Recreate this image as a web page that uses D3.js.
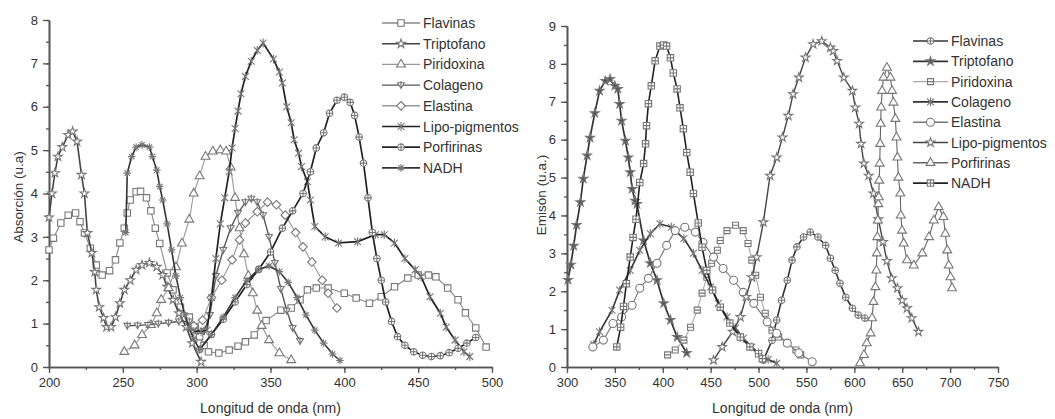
<!DOCTYPE html>
<html>
<head>
<meta charset="utf-8">
<script src="https://cdn.jsdelivr.net/npm/d3@7"></script>
<style>
  body { margin: 0; background: #fff; }
  text { font-family: "Liberation Sans", Arial, sans-serif; }
</style>
</head>
<body>
<svg id="chart" width="1055" height="419"></svg>
<script>
// series names (same order in both panels)
const seriesNames = ['Flavinas', 'Triptofano', 'Piridoxina', 'Colageno', 'Elastina', 'Lipo-pigmentos', 'Porfirinas', 'NADH'];

// ---- absorption panel (left) ----
const absFlavinasX = [200,203,208,213,218,221,224,228,232,236,241,245,248,251,253,255,259,262,266,269,272,275,280,284,289,295,299,302,305,308,315,322,328,333,339,347,357,364,370,375,381,389,400,408,417,425,434,443,450,457,462,470,477,482,489,496];
const absFlavinasY = [2.7,2.97,3.32,3.5,3.55,3.35,3.09,2.74,2.35,2.12,2.22,2.47,2.86,3.2,3.55,3.85,4.04,4.05,3.9,3.6,3.2,2.85,2.17,1.78,1.38,1.15,0.92,0.7,0.5,0.35,0.32,0.39,0.48,0.58,0.74,1.07,1.31,1.36,1.55,1.78,1.82,1.82,1.7,1.59,1.47,1.62,1.85,2.05,2.12,2.12,2.08,1.82,1.55,1.25,0.9,0.46];

const absTriptofanoX = [200,202,204,206,209,213,216,219,222,224,226,229,231,232,234,237,239,242,245,248,251,255,259,263,268,273,277,280,284,288,293,297,303];
const absTriptofanoY = [3.45,4.0,4.47,4.85,5.07,5.35,5.43,5.2,4.43,4.0,3.09,2.63,2.19,1.78,1.38,1.13,0.92,0.92,1.15,1.47,1.78,2.0,2.24,2.35,2.4,2.31,2.12,1.85,1.55,1.24,0.92,0.55,0.12];

const absPiridoxinaX = [251,258,263,269,273,276,281,286,290,295,298,302,306,311,316,320,323,326,329,332,335,338,341,344,349,356,364];
const absPiridoxinaY = [0.35,0.5,0.74,0.97,1.24,1.55,1.82,2.3,2.85,3.4,4.0,4.4,4.85,4.97,5.0,4.97,4.6,3.9,3.2,2.6,2.1,1.7,1.3,0.95,0.62,0.32,0.16];

const absColagenoX = [253,260,267,274,281,288,295,299,305,309,313,318,323,328,333,337,341,345,349,353,357,361,365,370];
const absColagenoY = [0.95,0.96,0.97,1.0,1.02,1.05,1.05,0.85,0.83,1.2,2.1,2.7,3.2,3.55,3.8,3.88,3.8,3.5,3.0,2.4,1.8,1.3,0.9,0.6];

const absElastinaX = [298,304,310,317,324,329,333,341,348,354,360,367,372,378,385,389,395];
const absElastinaY = [0.95,1.08,1.6,2.0,2.47,2.93,3.32,3.58,3.8,3.74,3.5,3.1,2.77,2.42,2.0,1.7,1.36];

const absLipoX = [298,303,307,310,313,316,319,322,324,326,328,330,333,337,341,345,352,356,358,361,364,366,369,371,375,377,380,387,396,409,421,427,434,441,448,452,458,465,469,475,481,485];
const absLipoY = [0.82,0.82,0.85,1.6,2.5,3.3,3.9,4.5,5.05,5.5,5.9,6.3,6.7,7.05,7.3,7.47,7.1,6.8,6.55,6.0,5.63,5.24,4.93,4.62,4.27,3.85,3.24,3.0,2.86,2.89,3.05,3.05,2.86,2.5,2.24,2.08,1.62,1.24,0.92,0.62,0.35,0.24];

const absPorfirinasX = [302,310,318,326,334,342,350,358,365,372,377,381,386,390,395,400,404,407,410,413,416,419,422,425,428,432,436,441,447,453,459,465,471,477,483,489];
const absPorfirinasY = [0.4,0.75,1.1,1.5,1.9,2.25,2.65,3.2,3.6,4.0,4.5,5.05,5.4,5.85,6.15,6.22,6.1,5.8,5.3,4.7,3.9,3.1,2.5,2.0,1.5,1.05,0.7,0.5,0.35,0.27,0.24,0.26,0.33,0.43,0.55,0.68];

const absNADHX = [252,253,256,259,263,268,270,273,275,277,280,283,286,289,292,295,298,302,310,318,326,334,342,349,356,362,368,374,380,386,392,397];
const absNADHY = [3.1,4.47,4.85,5.07,5.12,5.07,4.85,4.54,4.16,3.85,3.3,2.7,2.1,1.6,1.2,0.9,0.65,0.4,0.75,1.15,1.6,2.0,2.25,2.33,2.2,1.95,1.6,1.2,0.85,0.55,0.3,0.15];

// ---- emission panel (right) ----
const emFlavinasX = [505,514,519,524,530,535,540,547,554,562,570,575,580,585,591,598,604,611];
const emFlavinasY = [0.18,0.7,1.24,1.76,2.29,2.82,3.17,3.43,3.56,3.43,3.21,2.87,2.55,2.21,1.84,1.55,1.37,1.29];

const emTriptofanoX = [301,304,307,310,314,317,321,324,329,334,340,345,350,353,355,357,361,364,366,368,371,373,380,387,394,401,408,415,425];
const emTriptofanoY = [2.3,2.7,3.2,3.75,4.35,4.97,5.58,6.05,6.7,7.29,7.55,7.6,7.42,7.34,6.94,6.5,5.97,5.53,5.14,4.7,4.39,4.3,3.34,2.74,2.29,1.68,1.24,0.79,0.37];

const emPiridoxinaX = [405,413,422,429,436,441,446,451,457,460,467,476,484,489,493,497,502,507,514,521,530,539,544];
const emPiridoxinaY = [0.32,0.45,0.71,1.05,1.5,1.95,2.37,2.74,3.08,3.34,3.6,3.74,3.6,3.26,2.82,2.42,1.84,1.42,0.97,0.79,0.63,0.45,0.32];

const emColagenoX = [328,334,347,355,366,376,387,397,409,422,432,441,450,458,467,476,484,493,500,510,519];
const emColagenoY = [0.6,0.93,1.5,2.03,2.55,3.08,3.52,3.78,3.69,3.39,3.0,2.55,2.11,1.68,1.32,1.03,0.76,0.53,0.37,0.2,0.1];

const emElastinaX = [327,338,348,357,368,376,385,394,404,413,423,434,442,453,463,474,484,495,509,519,530,542,556];
const emElastinaY = [0.53,0.71,1.15,1.32,1.63,2.08,2.34,2.74,3.21,3.6,3.69,3.56,3.29,2.9,2.6,2.29,1.97,1.68,1.19,0.89,0.63,0.37,0.14];

const emLipoX = [453,462,473,481,487,493,498,505,512,519,525,531,536,542,549,557,566,575,578,582,589,598,601,605,607,610,615,620,625,630,634,639,645,650,655,660,667];
const emLipoY = [0.18,0.53,0.93,1.32,1.85,2.37,2.9,3.82,5.05,5.53,6.06,6.63,7.2,7.64,8.17,8.52,8.6,8.43,8.34,8.08,7.64,7.29,6.85,6.42,5.89,5.37,5.05,4.58,3.9,3.3,2.8,2.34,2.08,1.76,1.55,1.29,0.93];

const emPorfirinasX = [606,610,613,617,618.5,620,622,623,623.5,624,624.5,625,625.5,626,626.5,627,627.5,628,629,630.5,634,637.7,639.4,640.8,642.8,644,645,646,648,648.5,649.8,651.5,655,662,671,678,683,688,693,695,697,698.6,700.3,702];
const emPorfirinasY = [0.1,0.32,0.63,0.89,1.29,1.72,2.11,2.55,3.0,3.43,3.87,4.3,4.48,4.92,5.37,5.89,6.42,6.85,7.29,7.64,7.9,7.64,7.29,6.98,6.55,6.06,5.53,5.0,4.58,4.0,3.6,3.26,2.82,2.68,3.0,3.43,3.87,4.22,3.96,3.52,3.08,2.68,2.37,2.08];

const emNADHX = [352,356,359,362,366,369,372,376,380,382,383,385,388,392,397,401,404,408,411,415,418,421.5,425,428.6,432,437,441,446,452,460,470,481,491,500,504];
const emNADHY = [0.53,1.05,1.6,2.2,2.9,3.42,3.9,4.87,5.37,5.89,6.37,6.95,7.42,8.08,8.47,8.5,8.47,8.16,7.76,7.34,6.84,6.29,5.66,5.14,4.58,3.8,3.16,2.55,2.03,1.58,1.16,0.79,0.53,0.35,0.22];

// tick values
const absXTicks = [200, 250, 300, 350, 400, 450, 500];
const absYTicks = [0, 1, 2, 3, 4, 5, 6, 7, 8];
const emXTicks = [300, 350, 400, 450, 500, 550, 600, 650, 700, 750];
const emYTicks = [0, 1, 2, 3, 4, 5, 6, 7, 8, 9];

const absX = [absFlavinasX, absTriptofanoX, absPiridoxinaX, absColagenoX, absElastinaX, absLipoX, absPorfirinasX, absNADHX];
const absY = [absFlavinasY, absTriptofanoY, absPiridoxinaY, absColagenoY, absElastinaY, absLipoY, absPorfirinasY, absNADHY];
const emX = [emFlavinasX, emTriptofanoX, emPiridoxinaX, emColagenoX, emElastinaX, emLipoX, emPorfirinasX, emNADHX];
const emY = [emFlavinasY, emTriptofanoY, emPiridoxinaY, emColagenoY, emElastinaY, emLipoY, emPorfirinasY, emNADHY];

// marker shapes
const circ = r => `M${-r},0a${r},${r} 0 1,0 ${2 * r},0a${r},${r} 0 1,0 ${-2 * r},0Z`;
function markerPath(type) {
  switch (type) {
    case 'square': return 'M-3.2,-3.2H3.2V3.2H-3.2Z';
    case 'star':
    case 'starFilled': return d3.symbol(d3.symbolStar, 24)();
    case 'triangle': return d3.symbol(d3.symbolTriangle, 34)();
    case 'triDown': return 'M-3.4,-2.4L3.4,-2.4L0,3.4Z M0,-4.2V4.2';
    case 'diamond': return 'M0,-4.3L4.3,0L0,4.3L-4.3,0Z';
    case 'xstar': return 'M-3.4,-3.4L3.4,3.4M-3.4,3.4L3.4,-3.4M0,-4.4V4.4';
    case 'circPlus': return circ(3.3) + 'M-3.3,0H3.3M0,-3.3V3.3';
    case 'asterisk': return 'M0,-3.8V3.8M-3.8,0H3.8M-2.7,-2.7L2.7,2.7M-2.7,2.7L2.7,-2.7';
    case 'circle': return circ(4);
    case 'squarePlus': return 'M-3.2,-3.2H3.2V3.2H-3.2Z M-3.2,0H3.2M0,-3.2V3.2';
    case 'squareLine': return 'M-3,-3H3V3H-3Z M-3,0H3';
  }
}

const absStyle = [
  { m: 'square', line: '#888', w: 1.1 },
  { m: 'star', line: '#444', w: 1.6 },
  { m: 'triangle', line: '#999', w: 1.1 },
  { m: 'triDown', line: '#555', w: 1.4 },
  { m: 'diamond', line: '#999', w: 1.1 },
  { m: 'xstar', line: '#222', w: 1.7 },
  { m: 'circPlus', line: '#222', w: 1.7 },
  { m: 'asterisk', line: '#333', w: 1.6 }
];
const emStyle = [
  { m: 'circPlus', line: '#333', w: 1.6 },
  { m: 'starFilled', line: '#333', w: 1.7 },
  { m: 'squareLine', line: '#aaa', w: 1.1 },
  { m: 'xstar', line: '#333', w: 1.6 },
  { m: 'circle', line: '#777', w: 1.1 },
  { m: 'star', line: '#444', w: 1.4 },
  { m: 'triangle', line: '#666', w: 1.1 },
  { m: 'squarePlus', line: '#222', w: 1.6 }
];

const svg = d3.select('#chart');

function drawMarker(g, type, x, y) {
  g.append('path')
    .attr('d', markerPath(type))
    .attr('transform', `translate(${x},${y})`)
    .attr('fill', type === 'starFilled' ? '#555' : (type === 'xstar' || type === 'asterisk') ? 'none' : '#fff')
    .attr('stroke', '#777')
    .attr('stroke-width', 1.1);
}

function drawPanel(cfg) {
  const x = d3.scaleLinear().domain(cfg.xDomain).range(cfg.xRange);
  const y = d3.scaleLinear().domain(cfg.yDomain).range(cfg.yRange);
  const g = svg.append('g');

  // axes: minor ticks first, then major
  const minorX = d3.range(cfg.xDomain[0], cfg.xDomain[1] + 1, cfg.xMinor);
  const minorY = d3.range(cfg.yDomain[0], cfg.yDomain[1] + 0.01, 0.5);
  g.append('g').attr('transform', `translate(0,${cfg.yRange[0]})`)
    .call(d3.axisBottom(x).tickValues(minorX).tickSize(3).tickSizeOuter(0).tickFormat(''));
  g.append('g').attr('transform', `translate(${cfg.xRange[0]},0)`)
    .call(d3.axisLeft(y).tickValues(minorY).tickSize(3).tickSizeOuter(0).tickFormat(''));
  g.append('g').attr('transform', `translate(0,${cfg.yRange[0]})`)
    .call(d3.axisBottom(x).tickValues(cfg.xTicks).tickSize(6).tickSizeOuter(0).tickPadding(5));
  g.append('g').attr('transform', `translate(${cfg.xRange[0]},0)`)
    .call(d3.axisLeft(y).tickValues(cfg.yTicks).tickSize(6).tickSizeOuter(0).tickPadding(5));
  g.selectAll('.domain').attr('stroke', '#555').attr('stroke-width', 1.6);
  g.selectAll('.tick line').attr('stroke', '#555').attr('stroke-width', 1.3);
  g.selectAll('.tick text').attr('fill', '#333').style('font-size', '13px')
    .style('font-family', '"Liberation Sans", Arial, sans-serif');

  g.append('text')
    .attr('transform', `translate(${cfg.yTitlePos[0]},${cfg.yTitlePos[1]}) rotate(-90)`)
    .attr('text-anchor', 'middle').attr('dominant-baseline', 'central')
    .attr('fill', '#333').style('font-size', '13.5px').text(cfg.yTitle);
  g.append('text')
    .attr('x', (cfg.xRange[0] + cfg.xRange[1]) / 2 + cfg.xTitleShift).attr('y', 408)
    .attr('text-anchor', 'middle').attr('dominant-baseline', 'central')
    .attr('fill', '#333').style('font-size', '14px').text('Longitud de onda (nm)');

  const line = d3.line().x(d => x(d[0])).y(d => y(d[1]));

  seriesNames.forEach((name, i) => {
    const pts = cfg.xs[i].map((v, j) => [v, cfg.ys[i][j]]);
    const st = cfg.style[i];
    g.append('path').datum(pts).attr('d', line)
      .attr('fill', 'none').attr('stroke', st.line).attr('stroke-width', st.w);
    const mg = g.append('g');
    pts.forEach(p => drawMarker(mg, st.m, x(p[0]), y(p[1])));

    // legend row
    const ly = cfg.legY + i * cfg.legStep;
    g.append('line').attr('x1', cfg.legX[0]).attr('x2', cfg.legX[1])
      .attr('y1', ly).attr('y2', ly).attr('stroke', st.line).attr('stroke-width', Math.max(st.w, 1.4));
    drawMarker(g, st.m, (cfg.legX[0] + cfg.legX[1]) / 2, ly);
    g.append('text').attr('x', cfg.legX[1] + 3).attr('y', ly)
      .attr('dominant-baseline', 'central').attr('fill', '#333')
      .style('font-size', '14px').text(name);
  });
}

drawPanel({
  xDomain: [200, 500], xRange: [49, 492], xMinor: 25,
  yDomain: [0, 8], yRange: [367, 20],
  xTicks: absXTicks, yTicks: absYTicks,
  xs: absX, ys: absY, style: absStyle,
  yTitle: 'Absorción (u.a)', yTitlePos: [18, 197], xTitleShift: 0,
  legX: [382, 420], legY: 23, legStep: 20.7
});

drawPanel({
  xDomain: [300, 750], xRange: [567, 998], xMinor: 25,
  yDomain: [0, 9], yRange: [367, 26],
  xTicks: emXTicks, yTicks: emYTicks,
  xs: emX, ys: emY, style: emStyle,
  yTitle: 'Emisón (u.a.)', yTitlePos: [541, 195], xTitleShift: 0,
  legX: [913, 948], legY: 41, legStep: 20.3
});
</script>
</body>
</html>
